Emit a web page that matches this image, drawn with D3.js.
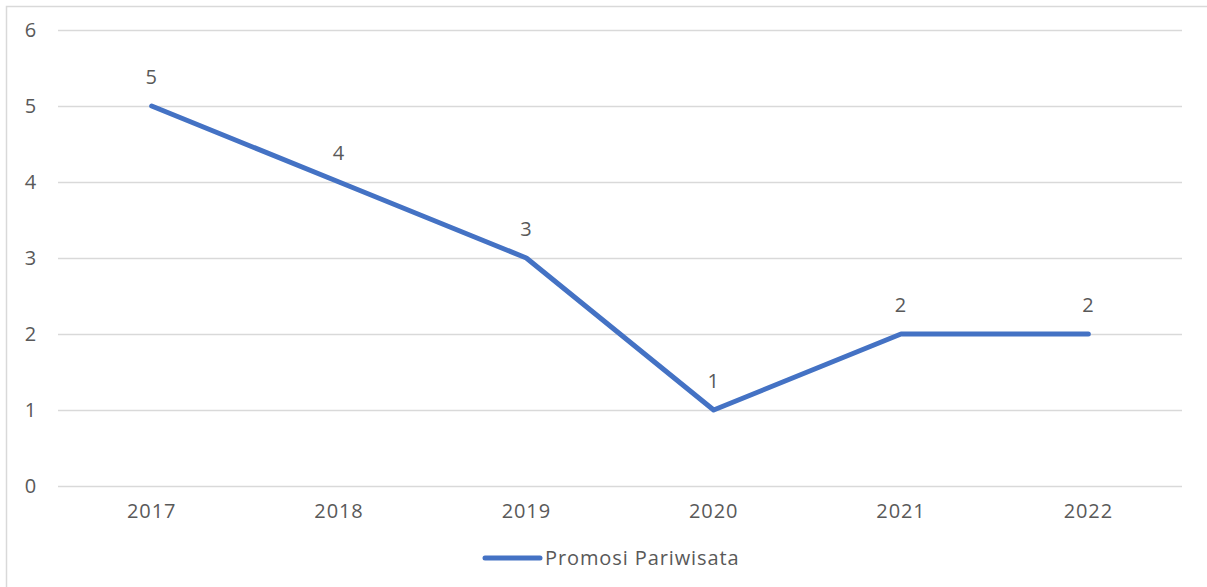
<!DOCTYPE html>
<html><head><meta charset="utf-8">
<script src="https://cdn.jsdelivr.net/npm/d3@7"></script>
<style>body{margin:0;background:#fff}svg{display:block}text{font-family:"Open Sans",sans-serif;fill:#595959;letter-spacing:0.9px}</style>
</head><body>
<svg id="c" width="1207" height="587"></svg>
<script>
const categories = ["2017","2018","2019","2020","2021","2022"];
const values = [5,4,3,1,2,2];
const yTicks = [0,1,2,3,4,5,6];
const seriesName = "Promosi Pariwisata";

const svg = d3.select("#c");
svg.append("rect").attr("x",6.5).attr("y",6.5).attr("width",1210).attr("height",590)
  .attr("fill","#fff").attr("stroke","#d9d9d9").attr("stroke-width",1.5);

const x = d3.scaleBand().domain(categories).range([58,1182]);
const y = d3.scaleLinear().domain([0,6]).range([486,30]);

const g = svg.append("g");
g.selectAll("line.grid").data(yTicks).join("line")
  .attr("x1",58).attr("x2",1182).attr("y1",d=>y(d)+0.5).attr("y2",d=>y(d)+0.5)
  .attr("stroke","#d9d9d9").attr("stroke-width",1.3);

g.selectAll("text.yt").data(yTicks).join("text")
  .attr("x",37).attr("y",d=>y(d)).attr("dy","0.35em").attr("text-anchor","end")
  .attr("font-size",20).text(d=>d);

g.selectAll("text.xt").data(categories).join("text")
  .attr("x",d=>x(d)+x.bandwidth()/2).attr("y",518).attr("text-anchor","middle")
  .attr("font-size",20).text(d=>d);

const line = d3.line().x((d,i)=>x(categories[i])+x.bandwidth()/2).y(d=>y(d));
g.append("path").datum(values).attr("d",line).attr("fill","none")
  .attr("stroke","#4472C4").attr("stroke-width",5).attr("stroke-linejoin","round").attr("stroke-linecap","round");

g.selectAll("text.lbl").data(values).join("text")
  .attr("x",(d,i)=>x(categories[i])+x.bandwidth()/2).attr("y",d=>y(d)-22)
  .attr("text-anchor","middle").attr("font-size",20).text(d=>d);

svg.append("line").attr("x1",485).attr("x2",540).attr("y1",558).attr("y2",558)
  .attr("stroke","#4472C4").attr("stroke-width",5).attr("stroke-linecap","round");
svg.append("text").attr("x",545).attr("y",558).attr("dy","0.35em").attr("font-size",20).text(seriesName);
</script>
</body></html>
